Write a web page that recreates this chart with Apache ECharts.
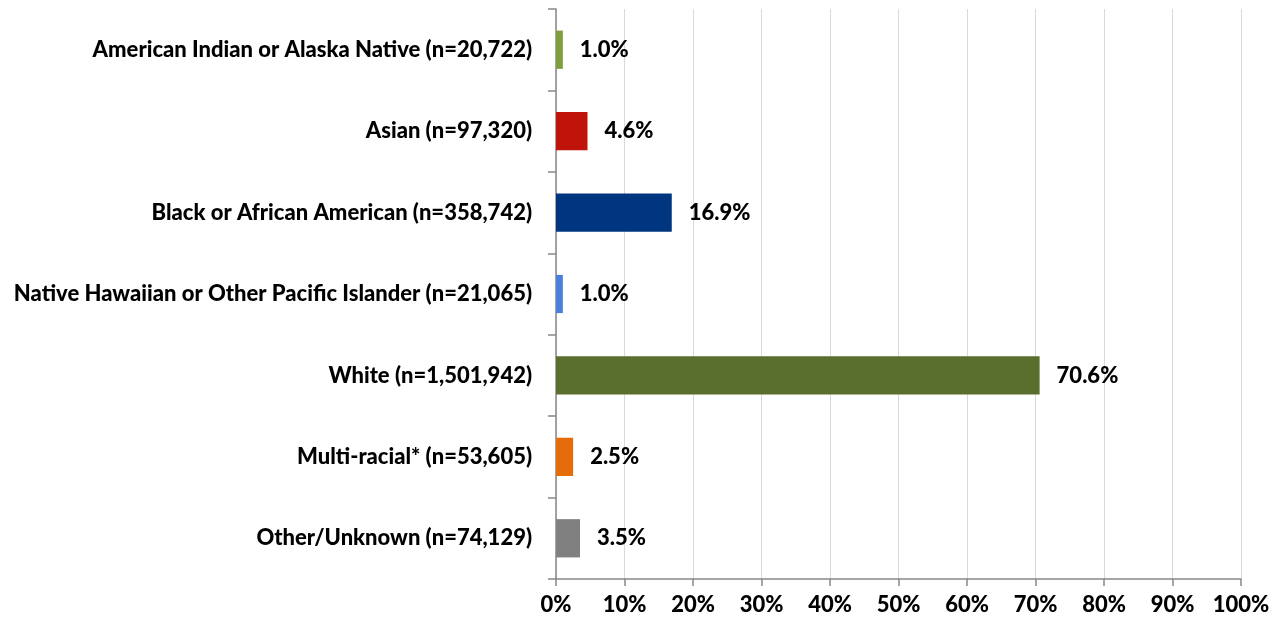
<!DOCTYPE html>
<html><head><meta charset="utf-8">
<script src="https://cdn.jsdelivr.net/npm/echarts@6/dist/echarts.min.js"></script>
<style>html,body{margin:0;padding:0;background:#fff}#c{width:1280px;height:623px}</style>
</head><body><div id="c"></div>
<script>
const categories = [
  "American Indian or Alaska Native (n=20,722)",
  "Asian (n=97,320)",
  "Black or African American (n=358,742)",
  "Native Hawaiian or Other Pacific Islander (n=21,065)",
  "White (n=1,501,942)",
  "Multi-racial* (n=53,605)",
  "Other/Unknown (n=74,129)"
];
const values = [1.0, 4.6, 16.9, 1.0, 70.6, 2.5, 3.5];
const colors = ["#7F9F3F", "#C0140A", "#003580", "#4A7FDB", "#5A6E2E", "#E46C0A", "#808080"];
const xTicks = [0, 10, 20, 30, 40, 50, 60, 70, 80, 90, 100];

const font = "Lato";
const chart = echarts.init(document.getElementById('c'));
chart.setOption({
  animation: false,
  grid: { left: 556, right: 39, top: 9, bottom: 44, containLabel: false },
  xAxis: {
    type: 'value', min: 0, max: 100, interval: 10,
    axisLine: { show: true, lineStyle: { color: '#888', width: 1.5 } },
    axisTick: { show: true, length: 7, lineStyle: { color: '#888', width: 1.5 } },
    splitLine: { show: true, lineStyle: { color: '#d9d9d9', width: 1 } },
    axisLabel: { formatter: v => v + '%', color: '#000', fontFamily: font, fontWeight: 900, fontSize: 22, margin: 15 }
  },
  yAxis: {
    type: 'category', inverse: true, data: categories,
    axisLine: { show: true, lineStyle: { color: '#888', width: 1.5 } },
    axisTick: { show: true, length: 8, inside: false, lineStyle: { color: '#888', width: 1.5 } },
    axisLabel: { color: '#000', fontFamily: font, fontWeight: 900, fontSize: 22, margin: 24 }
  },
  series: [{
    type: 'bar',
    data: values.map((v, i) => ({ value: v, itemStyle: { color: colors[i] } })),
    barCategoryGap: '53%',
    label: { show: true, position: 'right', distance: 17, formatter: p => p.value.toFixed(1) + '%', color: '#000', fontFamily: font, fontWeight: 900, fontSize: 22 }
  }]
});
</script></body></html>
